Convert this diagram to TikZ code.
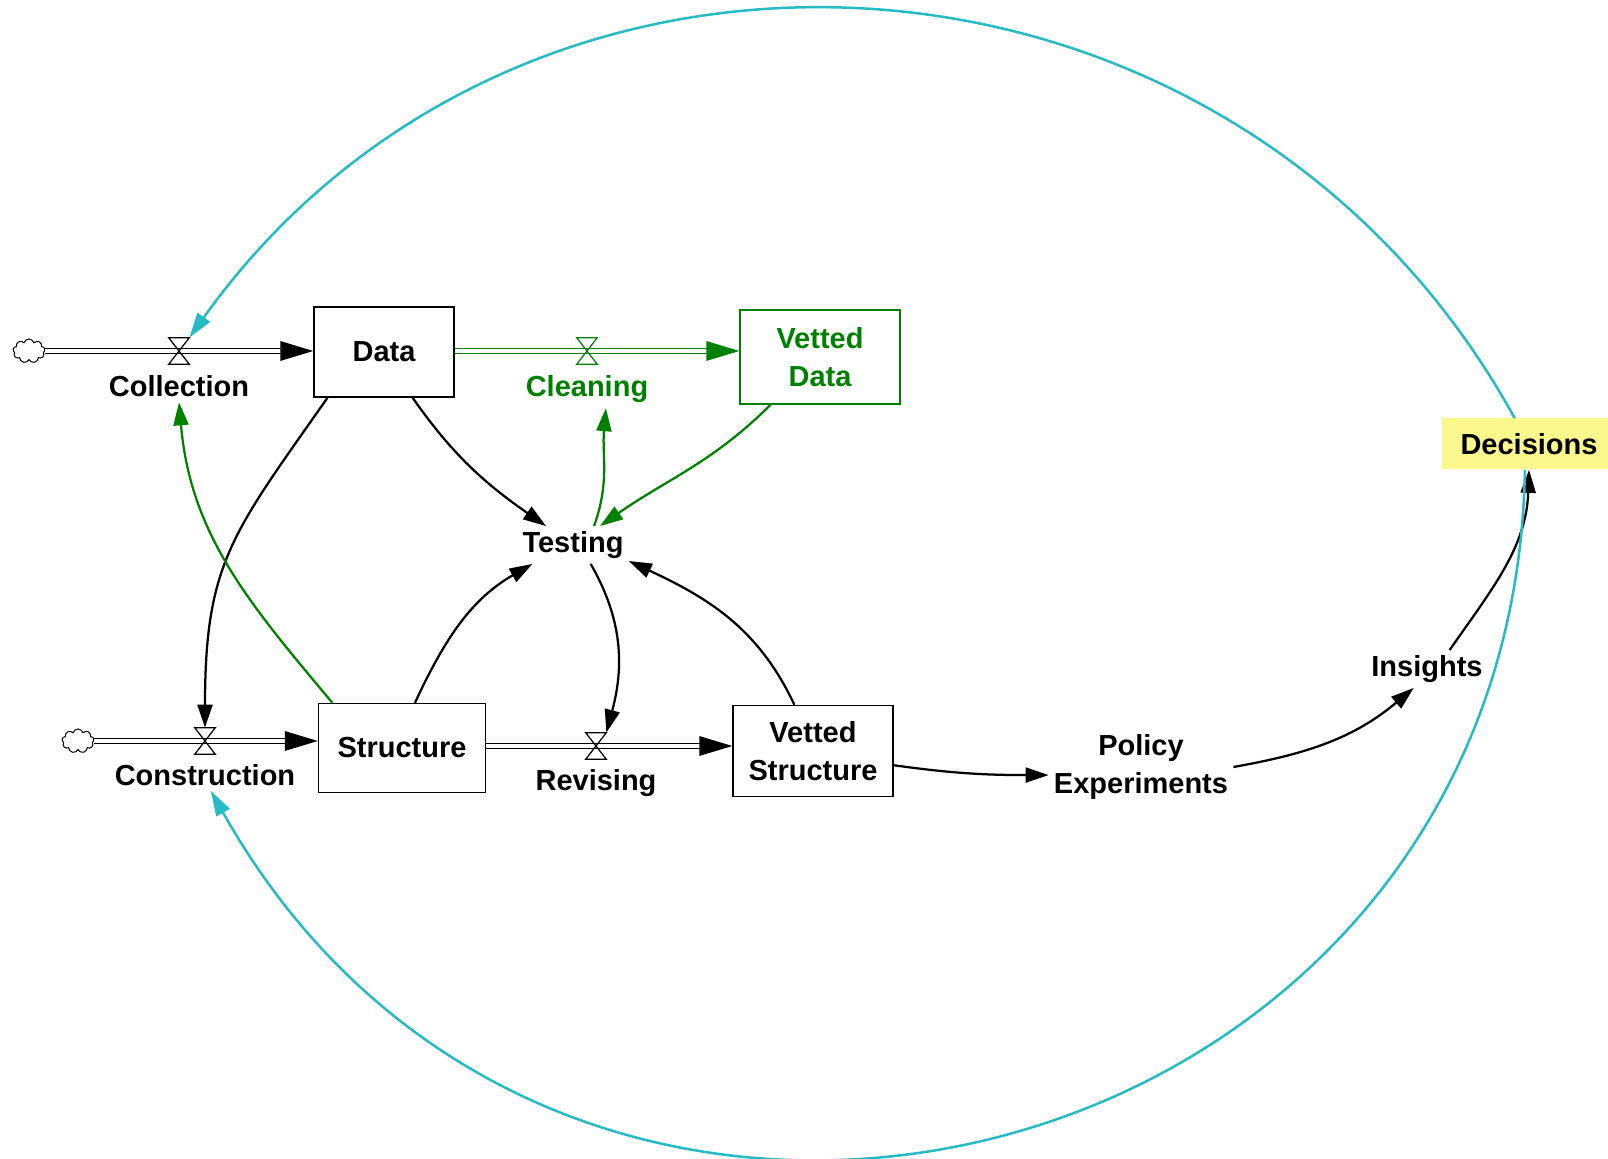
\documentclass[tikz,border=0pt]{standalone}
\usepackage{fontspec}
\setmainfont{Liberation Sans}
\usetikzlibrary{arrows.meta,shapes.symbols,positioning}

\definecolor{loopcyan}{RGB}{38,186,196}
\definecolor{vgreen}{RGB}{0,128,0}
\definecolor{auxyellow}{RGB}{250,248,140}

\newcommand{\simfont}{\fontsize{16.5}{21.6}\selectfont\bfseries}
% hourglass drawn over a valve node
\newcommand{\hourglass}[2][black]{\draw[#1, line width=0.25mm] (#2.north west) -- (#2.north east) -- (#2.south west) -- (#2.south east) -- cycle;}
% filled head at the end of a pipe
\newcommand{\flowtip}[2][black]{\fill[#1] (#2) -- ++(-33,-10) -- ++(0,20) -- cycle;}

\begin{document}
\begin{tikzpicture}[x=0.2mm, y=0.2mm,
    stock/.style={draw, line width=0.3mm, align=center, font=\simfont, inner sep=0pt},
    lbl/.style={font=\simfont, align=center, inner sep=1mm},
    valvebox/.style={minimum width=4mm, minimum height=5.2mm, inner sep=0pt},
    src/.style={cloud, cloud puffs=9, cloud ignores aspect, draw, line width=0.2mm, minimum width=6.4mm, minimum height=4.8mm, inner sep=0pt},
    pipe/.style={double, double distance=0.7mm, line width=0.3mm, shorten >=6mm},
    link/.style={line width=0.45mm, -{Triangle[length=4.6mm,width=3mm]}},
    feedback/.style={loopcyan, line width=0.5mm, -{Triangle[length=5mm,width=3mm]}}]
    \useasboundingbox (0,0) rectangle (1608,1159);

    % stocks
    \node[stock, minimum width=28mm, minimum height=18mm] (data) at (384,807) {Data};
    \node[stock, draw=vgreen, text=vgreen, minimum width=32mm, minimum height=18.8mm] (vdata) at (820,802) {Vetted\\Data};
    \node[stock, minimum width=33.4mm, minimum height=17.8mm] (struct) at (402,411) {Structure};
    \node[stock, minimum width=32mm, minimum height=18.2mm] (vstruct) at (813,408) {Vetted\\Structure};

    % sources and valves
    \node[src] (cl1) at (29,808) {};
    \node[src] (cl2) at (78,418) {};
    \node[valvebox] (colv) at (179,808) {};
    \node[valvebox] (cleanv) at (587,808) {};
    \node[valvebox] (conv) at (205,418) {};
    \node[valvebox] (revv) at (596,413) {};

    % pipes
    \draw[pipe] (cl1.east) -- (cl1.east -| data.west);
    \flowtip{cl1.east -| data.west}
    \draw[pipe, vgreen] (data.east |- cleanv) -- (cleanv -| vdata.west);
    \flowtip[vgreen]{cleanv -| vdata.west}
    \draw[pipe] (cl2.east) -- (cl2.east -| struct.west);
    \flowtip{cl2.east -| struct.west}
    \draw[pipe] (struct.east |- revv) -- (revv -| vstruct.west);
    \flowtip{revv -| vstruct.west}
    \hourglass{colv}
    \hourglass[vgreen]{cleanv}
    \hourglass{conv}
    \hourglass{revv}

    % flow names
    \node[lbl, below=1.2mm of colv] (collection) {Collection};
    \node[lbl, text=vgreen, below=1.2mm of cleanv] (cleaning) {Cleaning};
    \node[lbl, below=0.9mm of conv] (construction) {Construction};
    \node[lbl, below=1mm of revv] (revising) {Revising};

    % auxiliaries
    \node[lbl] (testing) at (573,614) {Testing};
    \node[lbl] (policy) at (1141,392) {Policy\\Experiments};
    \node[lbl] (insights) at (1427,490) {Insights};
    \node[lbl, fill=auxyellow, minimum width=34.8mm, minimum height=10.2mm] (dec) at (1529,715) {Decisions};

    % links
    \draw[link] (data.219) to[out=235, in=90, looseness=1.2] (conv.north);
    \draw[link] (data.-58) to[out=-55, in=145] (testing);
    \draw[link, vgreen] (vdata.-136) to[out=-135, in=35] (testing);
    \draw[link, vgreen] (testing.42) to[out=70, in=-95] (cleaning.-45);
    \draw[link, vgreen] (struct.147) to[out=130, in=-85] (collection.south);
    \draw[link] (struct.74) to[out=65, in=-150] (testing.-155);
    \draw[link] (testing.-47) to[out=-60, in=75] (revv.north east);
    \draw[link] (vstruct.112) to[out=115, in=-25] (testing.-16);
    \draw[link] (vstruct.-10) to[out=-8, in=180] (policy.185);
    \draw[link] (policy.east) to[out=10, in=-140] (insights.-125);
    \draw[link] (insights.40) to[out=55, in=-92] (dec.south);

    % decisions feed back to the inflows
    \draw[feedback] (dec.119) .. controls (1235,1249) and (524,1290) .. (colv.north east);
    \draw[feedback] (dec.-99) .. controls (1513,-25) and (565,-262) .. (construction.-70);
\end{tikzpicture}
\end{document}
